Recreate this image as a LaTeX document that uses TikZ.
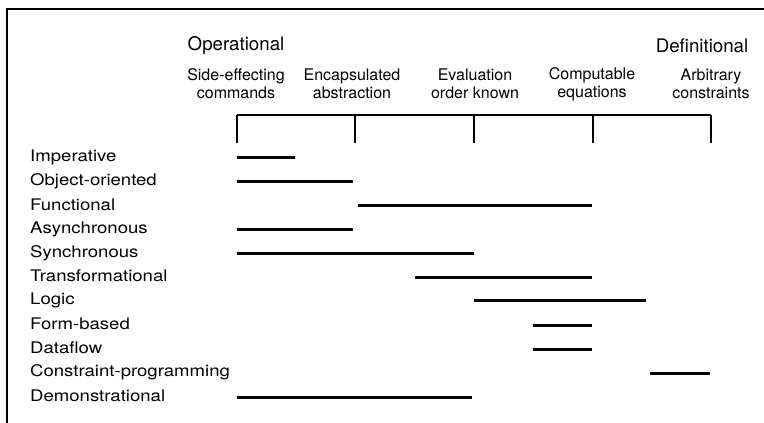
\documentclass[tikz,border=0pt]{standalone}
\usepackage{fontspec}
\setmainfont{TeX Gyre Heros}
\newfontfamily\rowfont[FakeStretch=1.16]{TeX Gyre Heros}
\begin{document}
\begin{tikzpicture}[x=1pt,y=-1pt,
  lbl/.style={font=\fontsize{18.7}{20}\selectfont, inner sep=0pt},
  col/.style={font=\fontsize{16}{18}\selectfont, inner sep=0pt, align=center},
  row/.style={font=\rowfont\fontsize{16}{18}\selectfont, inner sep=0pt, anchor=west},
  bar/.style={line width=3pt},
  tick/.style={line width=1.2pt},
  frame/.style={line width=1.2pt}]
\useasboundingbox (0,0) rectangle (764,423);
% frame
\coordinate (fl) at (7,423);
\coordinate (fc) at (7,9);
\coordinate (fr) at (764,9);
\draw[frame] (fl) -- (fc) -- (fr);
% headers
\node[lbl] (op) at (236,46) {Operational};
\node[lbl] (def) at (702,46) {Definitional};
\node[col] (c1) at (236,84) {Side-effecting\\commands};
\node[col] (c2) at (352,84) {Encapsulated\\abstraction};
\node[col] (c3) at (475,84) {Evaluation\\order known};
\node[col] (c4) at (592,84) {Computable\\equations};
\node[col] (c5) at (711,84) {Arbitrary\\constraints};
% axis
\coordinate (a1) at (237,115); \coordinate (b1) at (237,143);
\coordinate (a2) at (355,115); \coordinate (b2) at (355,143);
\coordinate (a3) at (474,115); \coordinate (b3) at (474,143);
\coordinate (a4) at (593,115); \coordinate (b4) at (593,143);
\coordinate (a5) at (711,115); \coordinate (b5) at (711,143);
\draw[line width=2pt] (a1) -- (a5);
\foreach \i in {1,...,5} \draw[tick] (a\i) -- (b\i);
% rows
\node[row] (r1) at (30,157) {Imperative};
\node[row] (r2) at (30,181) {Object-oriented};
\node[row] (r3) at (30,205) {Functional};
\node[row] (r4) at (30,229) {Asynchronous};
\node[row] (r5) at (30,253) {Synchronous};
\node[row] (r6) at (30,276) {Transformational};
\node[row] (r7) at (30,300) {Logic};
\node[row] (r8) at (30,324) {Form-based};
\node[row] (r9) at (30,348) {Dataflow};
\node[row] (r10) at (30,372) {Constraint-programming};
\node[row] (r11) at (30,396) {Demonstrational};
% bars
\draw[bar] (237,157) -- (295,157);
\draw[bar] (237,181) -- (353,181);
\draw[bar] (358,205) -- (592,205);
\draw[bar] (237,229) -- (353,229);
\draw[bar] (237,253) -- (474,253);
\draw[bar] (415,277) -- (592,277);
\draw[bar] (474,300) -- (646,300);
\draw[bar] (533,325) -- (592,325);
\draw[bar] (533,349) -- (592,349);
\draw[bar] (650,373) -- (710,373);
\draw[bar] (237,397) -- (472,397);
\end{tikzpicture}
\end{document}
